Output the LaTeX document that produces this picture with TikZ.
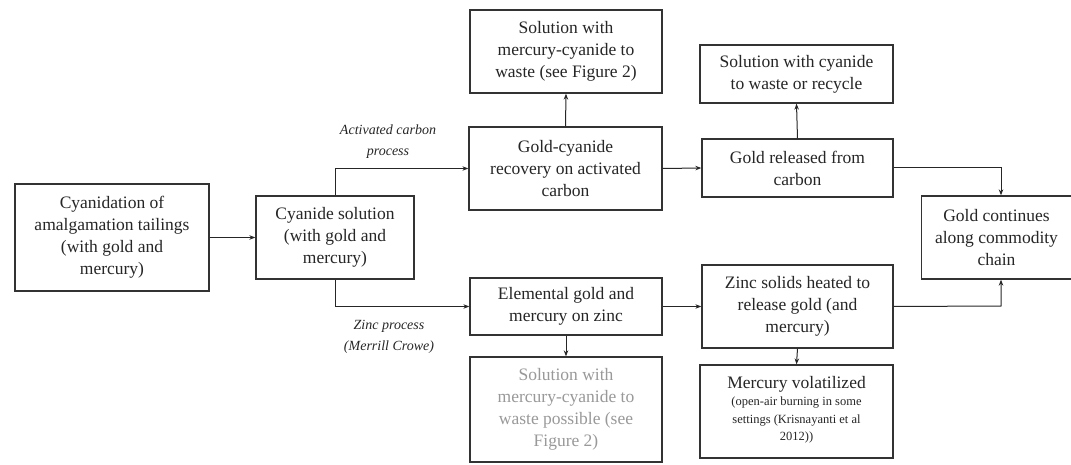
\documentclass[tikz,border=0pt]{standalone}
\usepackage{fontspec}
\setmainfont{Liberation Serif}
\usetikzlibrary{arrows.meta}
\newcommand\smalltxt{\fontsize{12.5}{17.5}\selectfont}
\begin{document}
\begin{tikzpicture}[x=1pt,y=-1pt,
  box/.style={draw=black!80, line width=1.3pt, fill=white, align=center, inner sep=0pt,
    font=\fontsize{17.5}{22}\selectfont, text=black!85},
  graybox/.style={box, text=black!40},
  conn/.style={draw=black!85, line width=1pt, -{Stealth[length=6pt,width=4.5pt]}},
  lbl/.style={font=\fontsize{14}{21}\selectfont\itshape, align=center, text=black!85}]
\useasboundingbox (0,0) rectangle (1071,465);
% boxes
\node[box, minimum width=194pt, minimum height=107pt] (cyan) at (112,237.5)
  {Cyanidation of\\amalgamation tailings\\(with gold and\\mercury)};
\node[box, minimum width=158pt, minimum height=83pt] (sol) at (335,237.5)
  {Cyanide solution\\(with gold and\\mercury)};
\node[box, minimum width=193pt, minimum height=83pt] (gcr) at (565.5,168.5)
  {Gold-cyanide\\recovery on activated\\carbon};
\node[box, minimum width=192pt, minimum height=83pt] (smc) at (566,51.5)
  {Solution with\\mercury-cyanide to\\waste (see Figure 2)};
\node[box, minimum width=193pt, minimum height=58pt] (swc) at (796.5,74)
  {Solution with cyanide\\to waste or recycle};
\node[box, minimum width=191pt, minimum height=58pt] (grc) at (797.5,168)
  {Gold released from\\carbon};
\node[box, minimum width=150pt, minimum height=83pt] (gcc) at (996.5,237.5)
  {Gold continues\\along commodity\\chain};
\node[box, minimum width=192pt, minimum height=57pt] (egm) at (566,306.5)
  {Elemental gold and\\mercury on zinc};
\node[graybox, minimum width=192pt, minimum height=105pt] (smp) at (566,409.5)
  {Solution with\\mercury-cyanide to\\waste possible (see\\Figure 2)};
\node[box, minimum width=193pt, minimum height=93pt] (mvo) at (796.5,411.5)
  {Mercury volatilized\\{\smalltxt\begin{tabular}{@{}c@{}}(open-air burning in some\\settings (Krisnayanti et al\\2012))\end{tabular}}};
\node[box, minimum width=191pt, minimum height=83pt] (zsh) at (797.5,306.5)
  {Zinc solids heated to\\release gold (and\\mercury)};
% helper coordinates
\coordinate (gcorner) at (1001,168);
\coordinate (zcorner) at (1001,306);
% connectors
\draw[conn] (cyan.east) -- (sol.west);
\draw[conn] (sol.north) |- (gcr.west);
\draw[conn] (sol.south) |- (egm.west);
\draw[conn] (gcr.north) -- (smc.south);
\draw[conn] (gcr.east) -- (grc.west);
\draw[conn] (grc.north) -- (swc.south);
\draw[conn] (grc.east) -- (gcorner) -- (gcorner |- gcc.north);
\draw[conn] (egm.east) -- (zsh.west);
\draw[conn] (egm.south) -- (smp.north);
\draw[conn] (zsh.east) -- (zcorner) -- (zcorner |- gcc.south);
\draw[conn] (zsh.south) -- (mvo.north);
% labels
\node[lbl] (lac) at (388,142) {Activated carbon\\process};
\node[lbl] (lzp) at (389,337) {Zinc process\\(Merrill Crowe)};
\end{tikzpicture}
\end{document}
